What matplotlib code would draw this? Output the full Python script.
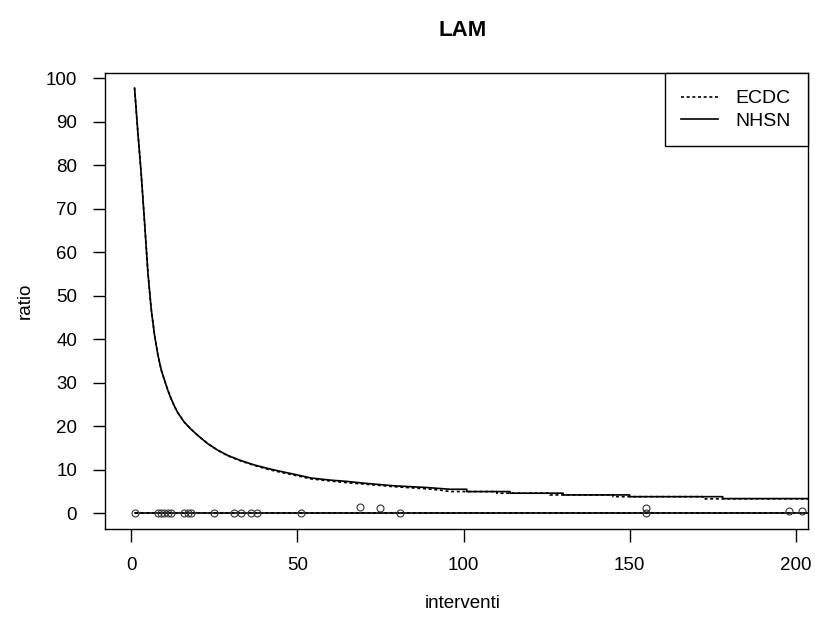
import matplotlib
matplotlib.use("Agg")
import matplotlib.pyplot as plt

plt.rcParams['font.family'] = ['Liberation Sans', 'DejaVu Sans']

# ---- data ----
nhsn_x = [1, 2, 3, 4, 5, 6, 7, 8, 9, 10, 11, 12, 13, 14, 16, 18, 20, 23, 26, 29, 33, 37, 41,
          45, 50, 54, 60, 65, 70, 79, 89, 96, 101, 101, 114, 114, 130, 130, 150, 150,
          178, 178, 210]
nhsn_y = [97.7, 87.5, 78, 67, 55.5, 47, 41, 36.5, 33, 30.6, 28.3, 26.3, 24.6, 23.1, 20.9, 19.3,
          17.9, 16, 14.5, 13.3, 12.1, 11.1, 10.3, 9.6, 8.8, 8.1, 7.6, 7.3, 6.9, 6.3, 5.9, 5.5,
          5.5, 4.97, 4.97, 4.6, 4.6, 4.2, 4.2, 3.8, 3.8, 3.36, 3.36]

ecdc_x = [1, 2, 3, 4, 5, 6, 7, 8, 9, 10, 11, 12, 13, 14, 16, 18, 20, 23, 26, 29, 33, 37, 41,
          45, 50, 54, 60, 65, 70, 79, 89, 93, 96, 110, 110, 126, 126, 145, 145,
          172, 172, 210]
ecdc_y = [97.7, 87.5, 78, 67, 55.5, 47, 41, 36.5, 33, 30.6, 28.3, 26.3, 24.6, 23.1, 20.9, 19.3,
          17.9, 16, 14.5, 13.2, 12.0, 11.0, 10.1, 9.4, 8.6, 7.9, 7.4, 7.0, 6.7, 6.1, 5.6, 5.3,
          4.97, 4.97, 4.6, 4.6, 4.2, 4.2, 3.8, 3.8, 3.3, 3.3]

lower_x = [1, 210]
lower_nhsn = [0, 0]
lower_ecdc = [0, 0]

pts_x = [1, 8, 9, 10, 11, 12, 16, 17, 18, 25, 31, 33, 36, 38, 51, 69, 75, 81,
         155, 155, 198, 202]
pts_y = [0, 0, 0, 0, 0, 0, 0, 0, 0, 0, 0, 0, 0, 0, 0, 1.5, 1.15, 0,
         1.2, 0, 0.4, 0.4]

x_ticks = [0, 50, 100, 150, 200]
y_ticks = [0, 10, 20, 30, 40, 50, 60, 70, 80, 90, 100]

title = "LAM"
xlabel = "interventi"
ylabel = "ratio"
series_names = ["ECDC", "NHSN"]

# ---- figure ----
fig = plt.figure(figsize=(8.15, 6.29), dpi=100)
ax = fig.add_axes([0.1288, 0.1585, 0.8623, 0.725])

lw = 1.2
dotted = (0, (1.8, 1.6))
ax.plot(ecdc_x, ecdc_y, color='black', lw=lw, linestyle=dotted, label=series_names[0])
ax.plot(nhsn_x, nhsn_y, color='black', lw=lw, linestyle='-', label=series_names[1])
ax.plot(lower_x, lower_ecdc, color='black', lw=lw, linestyle=dotted)
ax.plot(lower_x, lower_nhsn, color='black', lw=lw, linestyle='-')
ax.plot(pts_x, pts_y, linestyle='none', marker='o', markersize=5.0,
        markerfacecolor='none', markeredgecolor='#333333', markeredgewidth=0.8)

ax.set_xlim(-7.9, 203.6)
ax.set_ylim(-3.7, 101.1)
ax.set_xticks(x_ticks)
ax.set_yticks(y_ticks)
ax.set_xticklabels([str(v) for v in x_ticks])
ax.set_yticklabels([str(v) for v in y_ticks])

for s in ax.spines.values():
    s.set_linewidth(1.0)
    s.set_color('black')
ax.tick_params(axis='both', direction='out', length=9, width=1.0, color='black',
               labelsize=13.5, labelcolor='black')
ax.tick_params(axis='x', pad=11)
ax.tick_params(axis='y', pad=11)

fig.text(463 / 815, 1 - 30 / 629, title, ha='center', va='center', fontsize=16,
         fontweight='bold')
fig.text(463 / 815, 1 - 604 / 629, xlabel, ha='center', va='center', fontsize=13.5)
fig.text(25 / 815, 1 - 301 / 629, ylabel, ha='center', va='center', fontsize=13.5,
         rotation=90)

leg = ax.legend(loc='upper right', borderaxespad=0, fancybox=False, framealpha=1,
                edgecolor='black', fontsize=14, handlelength=1.9, handletextpad=0.9,
                borderpad=0.85, labelspacing=0.25)
leg.get_frame().set_linewidth(1.0)

fig.savefig('out.png', dpi=100)
